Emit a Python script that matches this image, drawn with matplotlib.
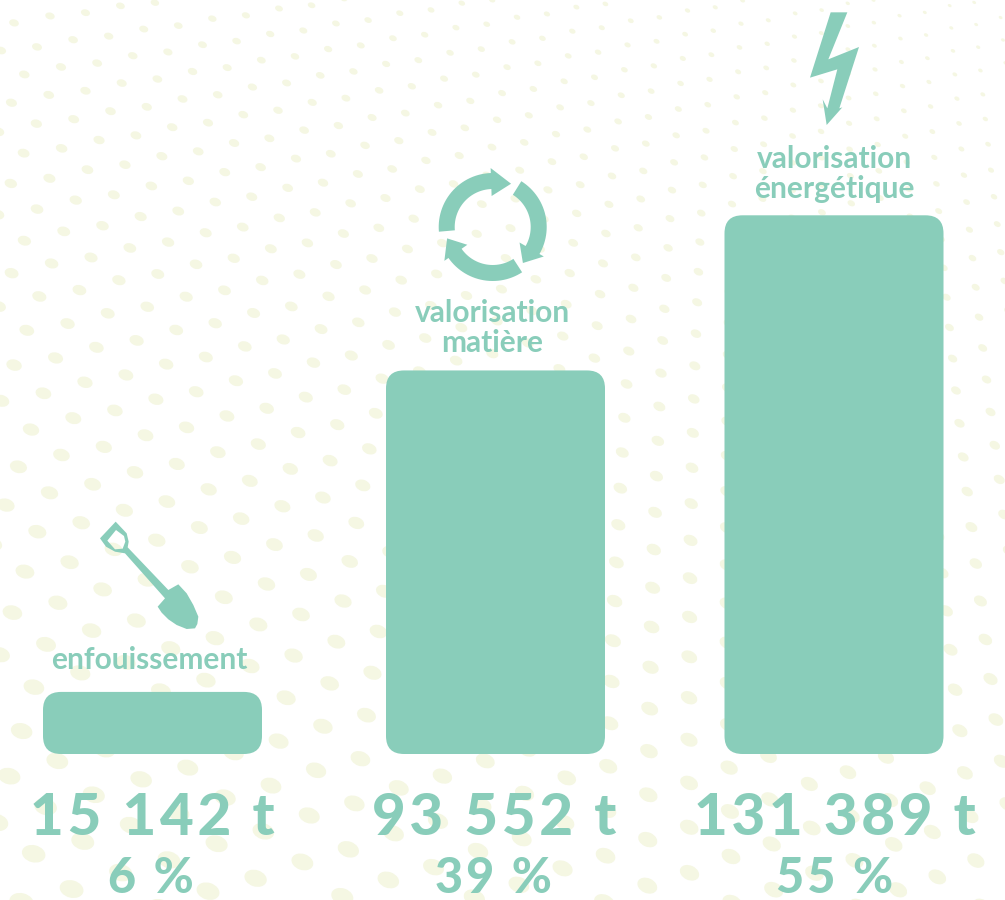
import numpy as np
import matplotlib
matplotlib.use("Agg")
import matplotlib.pyplot as plt
from matplotlib.collections import PatchCollection
from matplotlib.patches import Ellipse, FancyBboxPatch, PathPatch, Polygon
from matplotlib.path import Path

plt.rcParams['font.family'] = ['Lato', 'DejaVu Sans']

# --- Data ---
categories = ["enfouissement", "valorisation\nmatière", "valorisation\nénergétique"]
tonnes = [15142, 93552, 131389]
tonnes_labels = ["15 142 t", "93 552 t", "131 389 t"]
percent_labels = ["6 %", "39 %", "55 %"]

GREEN = '#89cdba'
DOT = '#f5f7e3'
TRACK = '\u200a'

fig = plt.figure(figsize=(10.05, 9), dpi=100)

# Background + icons + text, in pixel coordinates of the picture
ax = fig.add_axes([0, 0, 1, 1])
ax.set_xlim(0, 1005)
ax.set_ylim(900, 0)
ax.axis('off')


def dots():
    # the dot pattern: a lattice stretching towards the lower left
    def step_a(x, y):
        x = max(x, 0)
        return 35 + 0.016 * (y - 100) - 0.012 * (x - 200), -6 - 0.011 * (y - 100)

    def step_b(x, y):
        return -13 - 0.0055 * (y - 100), 29 + 0.027 * (y - 100)

    out = []
    px, py = 37.0, 46.0
    starts = [(14.0, 22.0), (px, py)]
    for i in range(34):
        bx, by = step_b(px, py)
        px, py = px + bx, py + by
        starts.append((px, py))
    for sx, sy in starts:
        for sign in (1, -1):
            x, y = sx, sy
            n = 0
            while -1500 < x < 1045 and n < 80:
                if sign == -1 and x < -40:
                    break
                if -30 < y < 930 and x > -40 and not (sign == -1 and n == 0):
                    w = max(4.0, 9.5 + 0.017 * y - 0.006 * x)
                    zig = 0.9 * (-1) ** n
                    out.append(Ellipse((x, y + zig), w, w * 0.72, angle=14 + 0.016 * x))
                ax_, ay_ = step_a(x, y)
                x, y = x + sign * ax_, y + sign * ay_
                n += 1
    return out


ax.add_collection(PatchCollection(dots(), facecolor=DOT, edgecolor='none', zorder=1))


# --- Icons ---
def zoom_pts(pts, x0, y0):
    # outlines were read on 3x crops of the picture
    return [(x0 + p[0] / 3, y0 + p[1] / 3) for p in pts]


bolt = [(272, 37), (322, 37), (265, 178), (357, 141), (298, 325), (307, 322),
        (260, 375), (248, 298), (262, 325), (292, 208), (210, 233)]
ax.add_patch(Polygon(zoom_pts(bolt, 740, 0), closed=True, fc=GREEN, ec='none', zorder=3))

shovel_out = [(347, 65), (380, 100), (386, 125), (383, 142), (505, 270), (535, 253),
              (560, 280), (580, 315), (595, 350), (592, 372), (585, 385), (560, 387),
              (530, 375), (505, 358), (485, 338), (473, 320), (495, 295),
              (375, 160), (345, 155), (318, 140), (300, 115)]
shovel_hole = [(348, 90), (322, 122), (345, 148), (368, 146), (376, 125), (372, 108)]
verts = zoom_pts(shovel_out, 0, 500) + [(0, 0)] + zoom_pts(shovel_hole, 0, 500) + [(0, 0)]
codes = ([Path.MOVETO] + [Path.LINETO] * (len(shovel_out) - 1) + [Path.CLOSEPOLY]
         + [Path.MOVETO] + [Path.LINETO] * (len(shovel_hole) - 1) + [Path.CLOSEPOLY])
ax.add_patch(PathPatch(Path(verts, codes), fc=GREEN, ec='none', zorder=3))


def arrow_arc(cx, cy, start, base, tip):
    # one arrow of the recycling ring, angles in degrees, going clockwise
    ang = np.radians(np.linspace(start, base, 30))
    outer = [(cx + 54 * np.cos(t), cy - 54 * np.sin(t)) for t in ang]
    inner = [(cx + 38 * np.cos(t), cy - 38 * np.sin(t)) for t in ang[::-1]]
    b = np.radians(base)
    t = np.radians(tip)
    head = [(cx + 59 * np.cos(b), cy - 59 * np.sin(b)),
            (cx + 47 * np.cos(t), cy - 47 * np.sin(t)),
            (cx + 31 * np.cos(b), cy - 31 * np.sin(b))]
    return outer + head + inner


for a0, a1, a2 in [(185, 92, 67), (58, -30, -50), (-57, -145, -166)]:
    ax.add_patch(Polygon(arrow_arc(492.7, 227, a0, a1, a2), closed=True, fc=GREEN, ec='none', zorder=3))

# --- Bars: y axis in tonnes, baseline on pixel row 754 ---
PX_PER_T = 0.0041
bar_ax = fig.add_axes([0, 0, 1, 1], facecolor='none')
bar_ax.set_xlim(0, 1005)
bar_ax.set_ylim(-(900 - 754) / PX_PER_T, 754 / PX_PER_T)
bar_ax.axis('off')

centers = [152.5, 495.5, 834]
width = 219
for c, v in zip(centers, tonnes):
    bar_ax.add_patch(FancyBboxPatch((c - width / 2, 0), width, v,
                                    boxstyle="round,pad=0,rounding_size=18",
                                    mutation_aspect=1 / PX_PER_T,
                                    fc=GREEN, ec='none', zorder=2))

# --- Text ---
label_y = [660, 328, 174]
for c, y, name in zip([149, 492, 834], label_y, categories):
    ax.text(c, y, name, ha='center', va='center', color=GREEN, fontsize=21.5,
            fontweight='bold', linespacing=1.1, zorder=4)

for c, lab in zip([152, 494, 835], tonnes_labels):
    ax.text(c, 835, TRACK.join(lab), ha='center', va='baseline', color=GREEN,
            fontsize=42, fontweight=900, zorder=4)
for c, lab in zip([151, 493, 835], percent_labels):
    ax.text(c, 893, TRACK.join(lab), ha='center', va='baseline', color=GREEN,
            fontsize=35, fontweight=900, zorder=4)

fig.savefig('out.png', dpi=100)
